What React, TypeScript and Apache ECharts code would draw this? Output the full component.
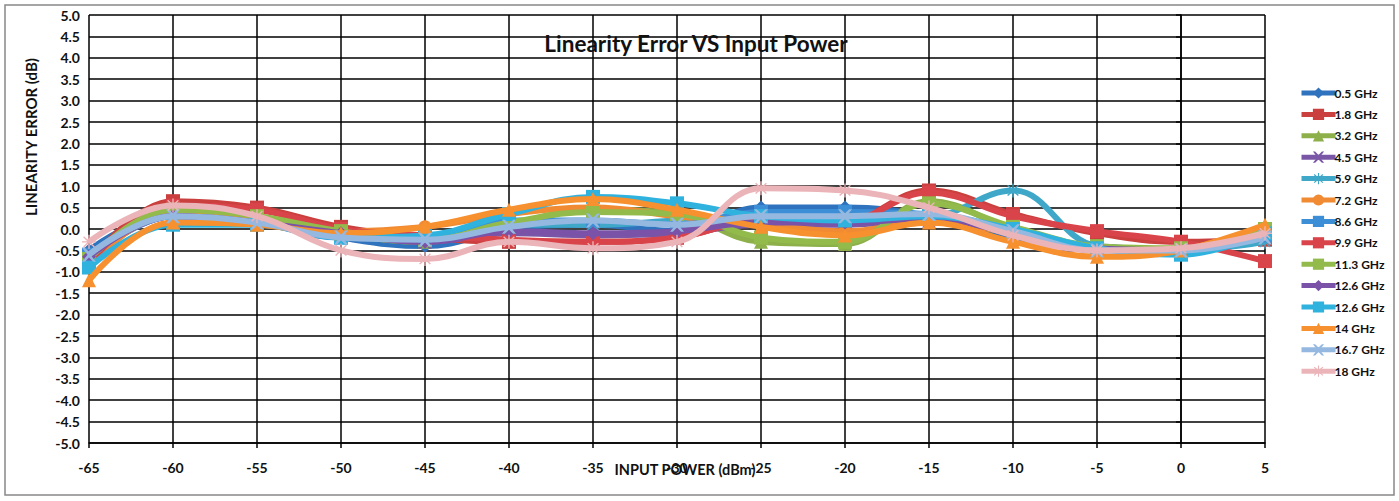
import React, { useEffect, useRef } from "react";
import * as echarts from "echarts";

const xValues = [-65, -60, -55, -50, -45, -40, -35, -30, -25, -20, -15, -10, -5, 0, 5];

const seriesNames = [
  "0.5 GHz", "1.8 GHz", "3.2 GHz", "4.5 GHz", "5.9 GHz", "7.2 GHz", "8.6 GHz",
  "9.9 GHz", "11.3 GHz", "12.6 GHz", "12.6 GHz ", "14 GHz", "16.7 GHz", "18 GHz",
];

const s05 = [-0.5, 0.35, 0.2, -0.2, -0.4, 0.0, 0.1, -0.05, 0.5, 0.5, 0.3, -0.2, -0.4, -0.5, -0.2];
const s18 = [-0.8, 0.65, 0.5, 0.05, -0.2, -0.3, -0.3, -0.2, 0.2, 0.2, 0.9, 0.35, -0.1, -0.3, -0.25];
const s32 = [-0.75, 0.45, 0.3, -0.1, -0.3, 0.1, 0.45, 0.35, -0.3, -0.35, 0.65, 0.0, -0.45, -0.5, 0.05];
const s45 = [-0.7, 0.3, 0.2, -0.1, -0.3, -0.1, -0.15, -0.1, 0.1, 0.1, 0.2, -0.1, -0.45, -0.5, -0.1];
const s59 = [-0.7, 0.3, 0.2, -0.15, -0.2, 0.1, 0.1, 0.2, 0.3, 0.3, 0.3, 0.9, -0.4, -0.5, -0.3];
const s72 = [-0.9, 0.4, 0.2, -0.05, 0.05, 0.35, 0.5, 0.3, 0.1, -0.05, 0.15, -0.1, -0.5, -0.45, 0.0];
const s86 = [-0.6, 0.3, 0.15, -0.2, -0.2, 0.2, 0.2, 0.1, 0.4, 0.4, 0.35, -0.05, -0.45, -0.5, -0.15];
const s99 = [-0.8, 0.55, 0.45, 0.0, -0.15, -0.25, -0.3, -0.2, 0.2, 0.2, 0.85, 0.3, -0.05, -0.3, -0.75];
const s113 = [-0.7, 0.45, 0.3, -0.05, -0.25, 0.15, 0.4, 0.35, -0.2, -0.3, 0.6, 0.05, -0.4, -0.45, 0.0];
const s126a = [-0.65, 0.3, 0.15, -0.1, -0.3, -0.05, -0.1, -0.05, 0.15, 0.15, 0.25, -0.1, -0.45, -0.5, -0.1];
const s126b = [-0.9, 0.1, 0.1, -0.2, -0.15, 0.35, 0.75, 0.6, 0.3, 0.2, 0.3, 0.0, -0.45, -0.6, -0.1];
const s14 = [-1.2, 0.15, 0.1, -0.1, 0.05, 0.45, 0.7, 0.45, 0.05, -0.15, 0.15, -0.3, -0.65, -0.5, 0.1];
const s167 = [-0.6, 0.3, 0.15, -0.2, -0.25, 0.05, 0.2, 0.1, 0.3, 0.3, 0.35, -0.05, -0.5, -0.5, -0.2];
const s180 = [-0.3, 0.55, 0.3, -0.5, -0.7, -0.3, -0.45, -0.3, 0.95, 0.9, 0.5, -0.15, -0.5, -0.45, -0.1];

const allData = [s05, s18, s32, s45, s59, s72, s86, s99, s113, s126a, s126b, s14, s167, s180];

const colors = [
  "#2F72BD", "#C9403E", "#8DB04A", "#7A57A6", "#3FA8C8", "#F08A33", "#3C8FD6",
  "#D9434A", "#93BB4B", "#7A52A8", "#2FB2DE", "#F7902E", "#95B8E0", "#EBB4B8",
];

const xPath = "path://M0,0 L2,0 L5,3 L8,0 L10,0 L6,5 L10,10 L8,10 L5,7 L2,10 L0,10 L4,5 Z";
const starPath = "path://M4.5,0 L5.5,0 L5.5,3.8 L8.5,1 L9.2,1.7 L6.2,4.5 L10,4.5 L10,5.5 L6.2,5.5 L9.2,8.3 L8.5,9 L5.5,6.2 L5.5,10 L4.5,10 L4.5,6.2 L1.5,9 L0.8,8.3 L3.8,5.5 L0,5.5 L0,4.5 L3.8,4.5 L0.8,1.7 L1.5,1 L4.5,3.8 Z";
const plusPath = "path://M0,4 L10,4 L10,6 L0,6 Z";
const dashPath = "path://M0,3.5 L10,3.5 L10,6.5 L0,6.5 Z";

const symbols = [
  "diamond", "rect", "triangle", xPath, starPath, "circle", plusPath,
  dashPath, dashPath, "diamond", "rect", "triangle", xPath, starPath,
];

export default function App() {
  const ref = useRef<HTMLDivElement>(null);
  useEffect(() => {
    if (!ref.current) return;
    const chart = echarts.init(ref.current, null, { renderer: "svg" });
    const font = "Lato, 'Open Sans', sans-serif";
    chart.setOption({
      animation: false,
      backgroundColor: "#ffffff",
      title: {
        text: "Linearity Error VS Input Power",
        left: 691,
        top: 27,
        textAlign: "center",
        textStyle: { fontFamily: font, fontSize: 22.5, fontWeight: "bold", color: "#111" },
      },
      graphic: [
        {
          type: "rect",
          shape: { x: 5, y: 5, width: 1389, height: 490 },
          style: { fill: "none", stroke: "#888", lineWidth: 1.5 },
          silent: true,
        },
        {
          type: "text",
          x: 31,
          y: 137,
          rotation: Math.PI / 2,
          style: {
            text: "LINEARITY ERROR (dB)",
            fill: "#111",
            font: "bold 15px Lato, 'Open Sans', sans-serif",
            align: "center",
            verticalAlign: "middle",
          },
          silent: true,
        },
        {
          type: "text",
          x: 685,
          y: 469,
          style: {
            text: "INPUT POWER (dBm)",
            fill: "#111",
            font: "bold 14.5px Lato, 'Open Sans', sans-serif",
            align: "center",
            verticalAlign: "middle",
          },
          silent: true,
        },
      ],
      legend: {
        orient: "vertical",
        left: 1294,
        top: 82,
        itemGap: 9.4,
        itemWidth: 34,
        itemHeight: 14,
        lineStyle: { width: 5 },
        textStyle: { fontFamily: font, fontSize: 12, fontWeight: "bold", color: "#111", padding: [0, 0, 0, -6] },
        data: seriesNames,
      },
      grid: { left: 89, right: 134, top: 15, bottom: 58, containLabel: false },
      xAxis: {
        type: "value",
        min: -65,
        max: 5,
        interval: 5,
        axisLine: { show: true, onZero: false, lineStyle: { color: "#000", width: 1.5 } },
        axisTick: { show: true, length: 5, lineStyle: { color: "#000", width: 1.5 } },
        axisLabel: { fontFamily: font, fontSize: 14, fontWeight: "bold", color: "#111", margin: 17 },
        splitLine: { show: true, lineStyle: { color: "#000", width: 1.5 } },
      },
      yAxis: {
        type: "value",
        min: -5,
        max: 5,
        interval: 0.5,
        axisLine: { show: true, lineStyle: { color: "#000", width: 1.5 } },
        axisTick: { show: true, length: 5, lineStyle: { color: "#000", width: 1.5 } },
        axisLabel: {
          fontFamily: font, fontSize: 14, fontWeight: "bold", color: "#111", margin: 9,
          formatter: (v: number) => v.toFixed(1),
        },
        splitLine: { show: true, lineStyle: { color: "#000", width: 1.5 } },
      },
      series: allData.map((d, i) => ({
        name: seriesNames[i],
        type: "line",
        smooth: 0.4,
        data: d.map((v, j) => [xValues[j], v]),
        symbol: symbols[i],
        symbolSize: i === 5 ? 13 : 14,
        lineStyle: { color: colors[i], width: 6 },
        itemStyle: { color: colors[i] },
        z: 2 + i,
      })),
    });
    return () => chart.dispose();
  }, []);
  return (
    <div
      ref={ref}
      style={{ position: "absolute", left: 0, top: 0, width: 1399, height: 501 }}
    />
  );
}
